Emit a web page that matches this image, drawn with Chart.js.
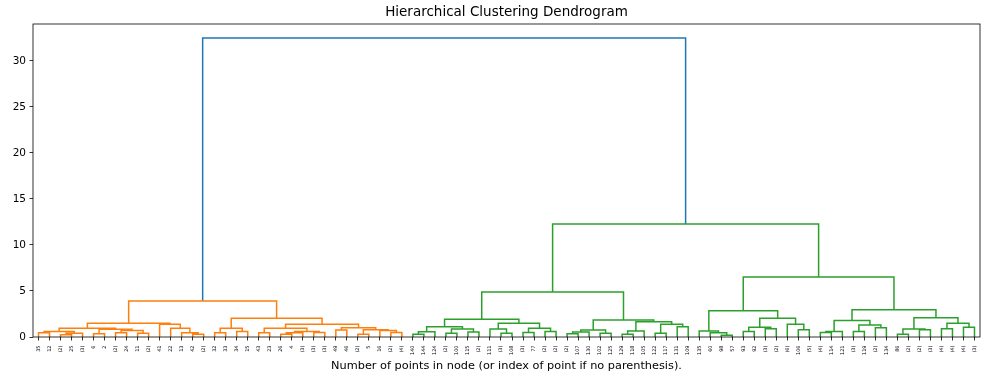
<!DOCTYPE html>
<html>
<head>
<meta charset="utf-8">
<script src="https://cdn.jsdelivr.net/npm/chart.js@4.4.1/dist/chart.umd.min.js"></script>
<style>
  html, body { margin: 0; padding: 0; background: #fff; }
  #wrap { width: 987px; height: 382px; }
</style>
</head>
<body>
<div id="wrap"><canvas id="dendro"></canvas></div>
<script>
// leaf labels, left to right
const leafLabels = [
    '35', '12', '(2)', '25', '(3)', '6', '2', '(2)', '24', '11', '(2)', '41', '22', '13', '42', '(2)',
    '32', '33', '34', '15', '43', '23', '26', '4', '(3)', '(3)', '(3)', '49', '46', '(2)', '5', '16', '(2)', '(4)',
    '140', '144', '124', '(2)', '100', '115', '(2)', '111', '(3)', '108', '(3)', '77', '(2)', '(2)', '(2)',
    '107', '130', '102', '125', '129', '118', '105', '122', '117', '131', '109', '135',
    '60', '98', '57', '93', '92', '(3)', '(2)', '(6)', '106', '(5)', '(4)',
    '114', '121', '(3)', '119', '(2)', '134', '86', '(2)', '(2)', '(3)', '(4)', '(4)', '(4)', '(3)'
];
const orangeLeafCount = 34;

// merges as [left, right, distance]; numbers are leaf indexes
const orangeTree = [
    [
        [
            [[0, 1, 0.45], [[2, 3, 0.25], 4, 0.4], 0.6],
            [[5, 6, 0.35], [[7, 8, 0.45], [9, 10, 0.4], 0.7], 0.85],
            0.95
        ],
        [11, [12, [13, [14, 15, 0.3], 0.45], 0.94], 1.38],
        1.49
    ],
    [
        [[16, 17, 0.45], [18, 19, 0.6], 0.94],
        [
            [[20, 21, 0.45], [[[22, 23, 0.3], 24, 0.45], [25, 26, 0.5], 0.6], 0.94],
            [[27, 28, 0.75], [[29, 30, 0.3], [31, [32, 33, 0.5], 0.7], 0.8], 1.0],
            1.38
        ],
        2.03
    ],
    3.91
];

const greenTree = [
    [
        [
            [[[34, 35, 0.3], 36, 0.58], [[37, 38, 0.4], [39, 40, 0.55], 0.87], 1.12],
            [[41, [42, 43, 0.4], 0.87], [[44, 45, 0.5], [46, 47, 0.6], 0.94], 1.49],
            1.92
        ],
        [
            [[[48, 49, 0.35], 50, 0.55], [51, 52, 0.4], 0.75],
            [[[53, 54, 0.3], 55, 0.65], [[56, 57, 0.4], [58, 59, 1.12], 1.38], 1.66],
            1.85
        ],
        4.89
    ],
    [
        [
            [60, [61, [62, 63, 0.2], 0.45], 0.65],
            [[[64, 65, 0.6], [66, 67, 0.9], 1.05], [68, [69, 70, 0.8], 1.38], 2.03],
            2.85
        ],
        [
            [[[71, 72, 0.5], 73, 0.6], [[74, 75, 0.6], [76, 77, 1.0], 1.3], 1.8],
            [[[78, 79, 0.3], [80, 81, 0.8], 0.87], [[82, 83, 0.9], [84, 85, 1.05], 1.5], 2.1],
            2.95
        ],
        6.52
    ],
    12.27
];

const rootHeight = 32.48;
const yTicks = [0, 5, 10, 15, 20, 25, 30];

const colorThreshold = 0.7 * rootHeight;
const colors = { orange: '#ff7f0e', green: '#2ca02c', blue: '#1f77b4' };
const segs = { orange: [], green: [], blue: [] };

// same layout as scipy: leaf i sits at 5 + 10*i
function walk(node) {
    if (typeof node === 'number') return { x: 5 + 10 * node, y: 0, first: node };
    const l = walk(node[0]);
    const r = walk(node[1]);
    const h = node[2];
    let c = l.first < orangeLeafCount ? 'orange' : 'green';
    if (h > colorThreshold) c = 'blue';
    segs[c].push({ x: l.x, y: l.y }, { x: l.x, y: h }, { x: r.x, y: h }, { x: r.x, y: r.y }, { x: r.x, y: null });
    return { x: (l.x + r.x) / 2, y: h, first: l.first };
}
walk([orangeTree, greenTree, rootHeight]);

const leafPos = leafLabels.map((_, i) => 5 + 10 * i);

const frame = {
    id: 'frame',
    afterDraw(chart) {
        const a = chart.chartArea, ctx = chart.ctx;
        ctx.save();
        ctx.strokeStyle = '#000';
        ctx.lineWidth = 0.8;
        ctx.strokeRect(a.left, a.top, a.right - a.left, a.bottom - a.top);
        ctx.restore();
    }
};

Chart.defaults.font.family = 'DejaVu Sans';
Chart.defaults.color = '#000';

new Chart(document.getElementById('dendro'), {
    type: 'line',
    data: {
        datasets: ['orange', 'green', 'blue'].map(c => ({
            data: segs[c],
            borderColor: colors[c],
            borderWidth: 1.5,
            pointRadius: 0,
            fill: false,
            tension: 0,
            spanGaps: false
        }))
    },
    options: {
        responsive: true,
        maintainAspectRatio: false,
        animation: false,
        layout: { padding: { left: 0, right: 7, top: 0, bottom: 0 } },
        plugins: {
            legend: { display: false },
            tooltip: { enabled: false },
            title: {
                display: true,
                fullSize: false,
                text: 'Hierarchical Clustering Dendrogram',
                font: { size: 13.5, weight: 'normal' },
                padding: { top: 4, bottom: 3.8 }
            }
        },
        scales: {
            x: {
                type: 'linear',
                min: 0,
                max: 10 * leafLabels.length,
                afterBuildTicks: s => { s.ticks = leafPos.map(v => ({ value: v })); },
                afterFit: s => { s.height = 45; },
                border: { display: false },
                grid: { drawOnChartArea: false, drawTicks: true, tickLength: 3.5, color: '#000', lineWidth: 0.8 },
                ticks: {
                    autoSkip: false,
                    minRotation: 90,
                    maxRotation: 90,
                    padding: 5,
                    font: { size: 5 },
                    callback: (v, i) => leafLabels[i]
                },
                title: {
                    display: true,
                    text: 'Number of points in node (or index of point if no parenthesis).',
                    font: { size: 11.3 },
                    padding: { top: 0, bottom: 9 }
                }
            },
            y: {
                min: 0,
                max: 34.0,
                afterBuildTicks: s => { s.ticks = yTicks.map(v => ({ value: v })); },
                afterFit: s => { s.width = 33; },
                border: { display: false },
                grid: { drawOnChartArea: false, drawTicks: true, tickLength: 3.5, color: '#000', lineWidth: 0.8 },
                ticks: { padding: 3.5, font: { size: 10.5 } }
            }
        }
    },
    plugins: [frame]
});
</script>
</body>
</html>
